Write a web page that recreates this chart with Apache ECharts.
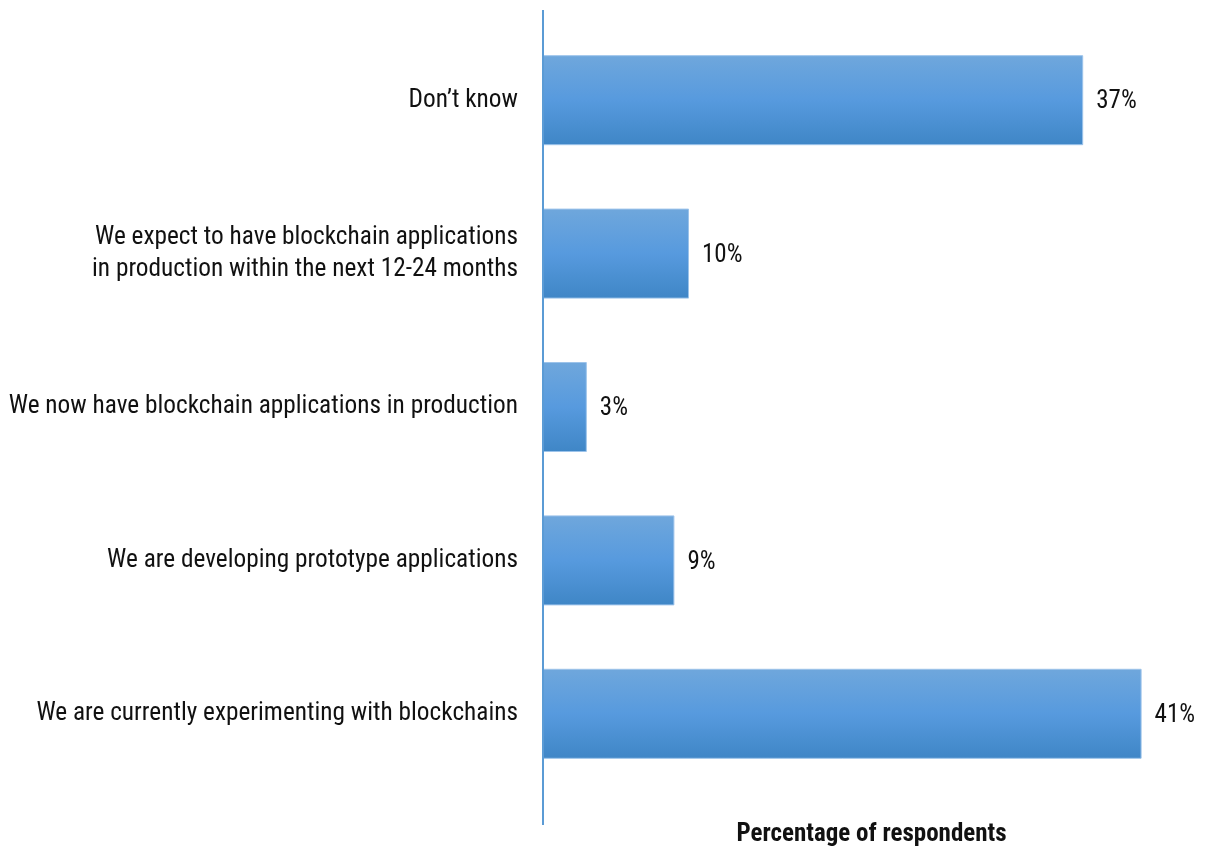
<!DOCTYPE html>
<html>
<head>
<meta charset="utf-8">
<script src="https://cdn.jsdelivr.net/npm/echarts@6/dist/echarts.min.js"></script>
<style>
  html, body { margin: 0; padding: 0; background: #fff; }
  #chart { width: 1207px; height: 846px; }
</style>
</head>
<body>
<div id="chart"></div>
<script>
// Survey responses, listed bottom-to-top as the category axis draws them
const categories = [
  'We are currently experimenting with blockchains',
  'We are developing prototype applications',
  'We now have blockchain applications in production',
  'We expect to have blockchain applications\nin production within the next 12-24 months',
  'Don\u2019t know'
];
const values = [41, 9, 3, 10, 37];
const axisTitle = 'Percentage of respondents';

const FONT = '"Roboto Condensed", "Liberation Sans Narrow", "Arial Narrow", Roboto, sans-serif';

const chart = echarts.init(document.getElementById('chart'), null, { renderer: 'canvas' });

const option = {
  backgroundColor: '#ffffff',
  animation: false,
  grid: {
    left: 543, right: 7, top: 23.5, bottom: 55.5,
    containLabel: false,
    outerBoundsMode: 'none'
  },
  xAxis: {
    type: 'value',
    min: 0,
    max: 45,
    axisLine: { show: false },
    axisTick: { show: false },
    axisLabel: { show: false },
    splitLine: { show: false },
    name: axisTitle,
    nameLocation: 'middle',
    nameGap: 32,
    nameTextStyle: { fontFamily: FONT, fontSize: 25, fontWeight: 'bold', color: '#111' }
  },
  yAxis: {
    type: 'category',
    data: categories,
    axisLine: { show: false },
    axisTick: { show: false },
    axisLabel: {
      fontFamily: FONT,
      fontSize: 25.3,
      color: '#111',
      margin: 25,
      align: 'right',
      lineHeight: 32,
      padding: [3, 0, 0, 0]
    }
  },
  series: [{
    type: 'bar',
    data: values,
    barWidth: 90,
    itemStyle: {
      color: new echarts.graphic.LinearGradient(0, 0, 0, 1, [
        { offset: 0, color: '#6fa7dc' },
        { offset: 0.5, color: '#579ade' },
        { offset: 1, color: '#3f86c6' }
      ]),
      borderColor: '#9cc3ea',
      borderWidth: 1
    },
    label: {
      show: true,
      position: 'right',
      distance: 13,
      offset: [0, 2],
      formatter: '{c}%',
      fontFamily: FONT,
      fontSize: 25,
      color: '#111'
    }
  }]
};

chart.setOption(option);

// Vertical baseline at zero, running past the category bands
const x0 = chart.convertToPixel({ xAxisIndex: 0 }, 0);
chart.setOption({
  graphic: [{
    type: 'line',
    shape: { x1: x0, y1: 10, x2: x0, y2: 825 },
    style: { stroke: '#5b9bd5', lineWidth: 2 },
    z: 10
  }]
});
</script>
</body>
</html>
